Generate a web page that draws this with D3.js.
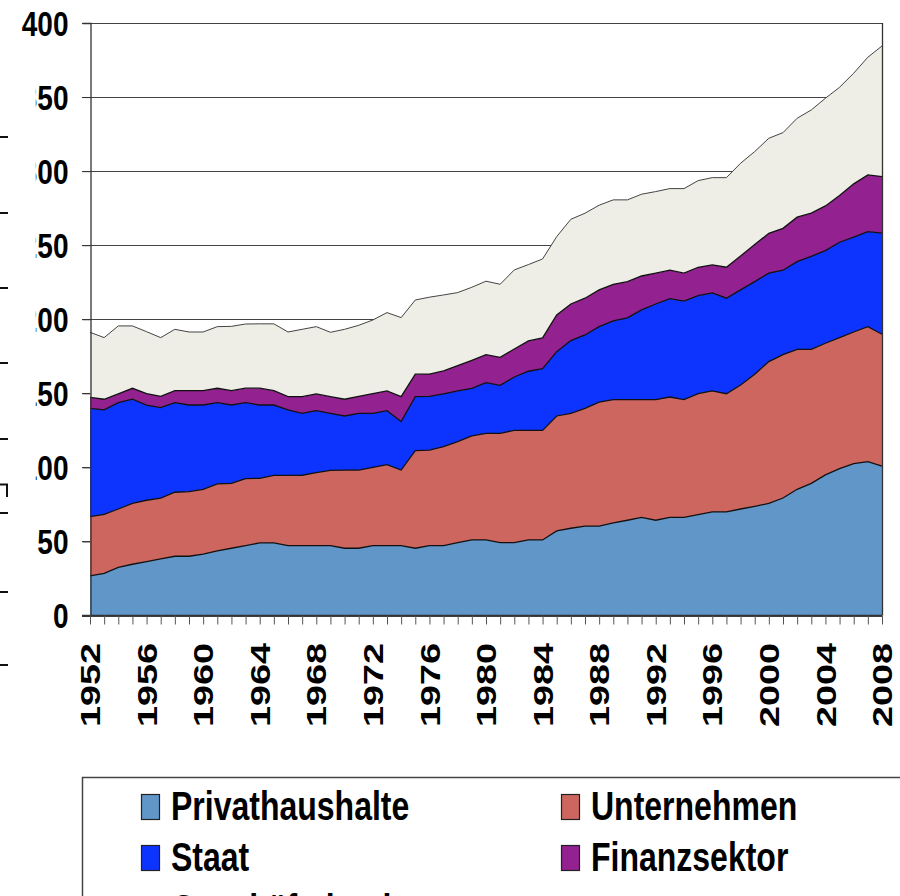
<!DOCTYPE html>
<html><head><meta charset="utf-8">
<script src="https://cdn.jsdelivr.net/npm/d3@7/dist/d3.min.js"></script>
<style>body{margin:0;background:#fff;} svg{display:block}</style>
</head><body><svg id="c" width="900" height="896"></svg>
<script>
const years = d3.range(1952, 2009);
const seriesNames = ["Privathaushalte","Unternehmen","Staat","Finanzsektor","Geschäftsbanken"];
const seriesColors = ["#6196C9","#CC665F","#0D33FF","#93218F","#EEEEE6"];
const privathaushalte = [26.7,28.5,32.5,34.6,36.3,38.2,40.0,40.0,41.5,43.6,45.4,47.2,49.0,49.0,47.2,47.2,47.2,47.2,45.4,45.4,47.2,47.2,47.2,45.4,47.2,47.2,49.2,51.0,51.0,49.2,49.2,51.0,51.0,57.1,58.9,60.4,60.4,62.5,64.3,66.3,64.3,66.2,66.2,68.1,69.9,69.9,71.9,73.7,75.7,79.3,85.2,89.2,94.9,99.1,102.5,103.9,100.9];
const unternehmen = [40.0,39.8,39.4,41.1,41.5,41.1,43.2,43.6,43.7,45.2,43.8,45.2,43.6,45.6,47.4,47.5,49.2,50.8,52.8,52.8,52.8,54.6,51.0,65.9,64.5,66.8,68.2,70.2,72.0,73.8,75.8,74.0,74.0,77.6,77.6,79.5,83.6,83.2,81.4,79.4,81.4,81.3,79.5,81.7,81.7,79.8,83.7,89.2,95.7,96.8,94.5,90.5,88.9,88.5,88.9,91.1,89.0];
const staat = [73.2,70.5,71.8,70.3,64.3,61.0,60.5,58.5,56.9,54.9,52.9,51.3,49.5,47.5,44.2,41.8,41.9,38.5,36.5,38.3,36.5,36.5,32.7,36.4,36.3,35.6,34.2,32.2,34.2,32.4,36.0,39.9,41.6,43.4,49.1,49.5,51.0,53.2,55.2,60.6,64.6,66.4,66.5,66.1,66.2,64.5,64.2,62.5,59.7,57.0,59.2,62.8,62.5,64.4,64.0,64.2,68.2];
const finanzsektor = [7.4,7.2,5.9,7.4,7.7,7.7,8.1,9.7,9.7,9.7,9.7,9.8,11.4,9.7,8.9,11.2,11.3,11.2,11.3,11.5,13.3,13.3,16.8,15.2,15.0,15.5,17.1,18.9,18.9,18.9,18.9,20.5,20.8,24.8,24.7,24.8,24.8,24.7,24.5,22.9,20.8,19.2,18.9,19.2,18.9,20.9,22.9,25.0,26.9,28.3,30.0,29.1,30.2,31.5,36.0,38.2,38.2];
const geschaeftsbanken = [43.9,41.6,45.9,42.1,41.8,39.6,41.4,39.6,39.6,41.6,43.4,43.3,43.4,45.1,43.7,45.5,45.4,43.5,47.2,47.9,49.7,52.9,53.4,50.1,51.9,51.3,49.3,49.3,49.6,49.3,53.4,51.5,53.3,52.9,57.2,57.4,57.2,57.0,55.2,55.2,55.1,55.1,57.1,58.5,58.9,60.5,62.6,62.8,64.2,64.6,66.8,69.7,72.7,73.1,74.7,79.5,88.2];
const yTickValues = [0,50,100,150,200,250,300,350,400];
const xTickLabels = [1952,1956,1960,1964,1968,1972,1976,1980,1984,1988,1992,1996,2000,2004,2008];

const seriesValues = [privathaushalte, unternehmen, staat, finanzsektor, geschaeftsbanken];
const rows = years.map((yr, i) => {
  const r = {year: yr};
  seriesNames.forEach((n, k) => r[n] = seriesValues[k][i]);
  return r;
});

const font = "'Liberation Sans',Arial,Helvetica,sans-serif";
const svg = d3.select("#c");
const x = d3.scaleLinear().domain([1952, 2008]).range([90, 882]);
const y = d3.scaleLinear().domain([0, 400]).range([615.5, 23]);

// gridlines
svg.append("g").selectAll("line").data(yTickValues).join("line")
  .attr("x1", 82).attr("x2", 882)
  .attr("y1", d => Math.round(y(d)) + 0.5).attr("y2", d => Math.round(y(d)) + 0.5)
  .attr("stroke", "#444").attr("stroke-width", 1);

const stack = d3.stack().keys(seriesNames)(rows);
const area = d3.area().x(d => x(d.data.year)).y0(d => y(d[0])).y1(d => y(d[1]));
const line = d3.line().x(d => x(d.data.year)).y(d => y(d[1]));

svg.append("g").selectAll("path").data(stack).join("path")
  .attr("d", area).attr("fill", (d, i) => seriesColors[i]);
svg.append("g").selectAll("path").data(stack).join("path")
  .attr("d", line).attr("fill", "none")
  .attr("stroke", (d, i) => i === 4 ? "#444" : "#111")
  .attr("stroke-width", (d, i) => i === 4 ? 1 : 1.3);

// right border
svg.append("line").attr("x1", 882.5).attr("x2", 882.5).attr("y1", y(400)).attr("y2", y(0))
  .attr("stroke", "#333").attr("stroke-width", 1.3);

// y axis
const yAxis = svg.append("g").attr("transform", "translate(90.5,0)")
  .call(d3.axisLeft(y).tickValues(yTickValues).tickSize(8).tickPadding(14).tickFormat(d3.format("d")));
yAxis.select(".domain").attr("stroke", "#333").attr("stroke-width", 1.3);
yAxis.selectAll(".tick line").attr("stroke", "#333");
yAxis.selectAll(".tick text").attr("font-family", font).attr("font-weight", "bold")
  .attr("font-size", 28).attr("fill", "#000").attr("y", 0)
  .attr("transform", "scale(1,1.22)").attr("dy", "0.36em");

// x axis
const xAxis = svg.append("g").attr("transform", "translate(0,615.5)")
  .call(d3.axisBottom(x).tickValues(years).tickSize(9).tickFormat(""));
xAxis.select(".domain").attr("stroke", "#333").attr("stroke-width", 1.3).attr("d", "M82,0H882");
xAxis.selectAll(".tick line").attr("stroke", "#555");

svg.append("g").selectAll("text").data(xTickLabels).join("text")
  .attr("transform", d => `translate(${x(d)},643) rotate(-90) scale(1.35,1)`)
  .attr("text-anchor", "end").attr("dy", "0.36em")
  .attr("font-family", font).attr("font-weight", "bold")
  .attr("font-size", 28).attr("fill", "#000").text(d => d);

// mask covering left part of lower tick labels
svg.append("rect").attr("x", 0).attr("y", 45).attr("width", 35.8).attr("height", 720).attr("fill", "#fff");
const leftMarks = [137, 213, 288, 363, 439, 513, 592, 665];
svg.append("g").selectAll("line").data(leftMarks).join("line")
  .attr("x1", 0).attr("x2", 8).attr("y1", d => d).attr("y2", d => d)
  .attr("stroke", "#111").attr("stroke-width", 2);
svg.append("path").attr("d", "M0,484.5H7V497").attr("fill", "none").attr("stroke", "#111").attr("stroke-width", 2);

// legend
const lg = svg.append("g");
lg.append("rect").attr("x", 82.5).attr("y", 777.5).attr("width", 840).attr("height", 200)
  .attr("fill", "#fff").attr("stroke", "#444").attr("stroke-width", 1.5);
const legPos = [[141, 820], [561, 820], [141, 871], [561, 871], [141, 923]];
seriesNames.forEach((n, i) => {
  const [lx, ly] = legPos[i];
  lg.append("rect").attr("x", lx + 0.5).attr("y", ly - 25.5).attr("width", 18).attr("height", 25)
    .attr("fill", seriesColors[i]).attr("stroke", "#222").attr("stroke-width", 1.2);
  lg.append("text")
    .attr("transform", `translate(${lx + 30},${ly}) scale(1,1.25)`)
    .attr("font-family", font).attr("font-weight", "bold").attr("font-size", 32)
    .attr("fill", "#000").text(n);
});
</script></body></html>
